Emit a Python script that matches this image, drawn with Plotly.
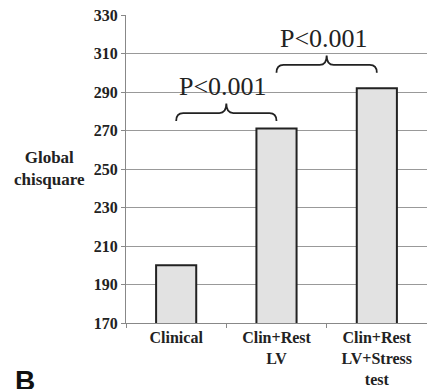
import plotly.graph_objects as go

categories = ["Clinical", "Clin+Rest<br>LV", "Clin+Rest<br>LV+Stress<br>test"]
values = [200, 271, 292]
y_ticks = [170, 190, 210, 230, 250, 270, 290, 310, 330]

# significance braces: start/end category index, tip level, peak level, label level
brace_from = [0, 1]
brace_to = [1, 2]
brace_tip = [275, 300]
brace_peak = [284, 309]
brace_label_y = [293, 318]
brace_labels = ["P<0.001", "P<0.001"]

serif = "Liberation Serif, Times New Roman, Times, serif"

fig = go.Figure()
fig.add_trace(go.Bar(
    x=categories, y=values, width=0.4,
    marker=dict(color="#e2e2e2", line=dict(color="#222222", width=2)),
    showlegend=False,
))

shapes = []
annotations = []
for a, b, tip, peak, ly, txt in zip(brace_from, brace_to, brace_tip, brace_peak, brace_label_y, brace_labels):
    line = tip + (peak - tip) * 0.45
    m = (a + b) / 2
    dx = 0.07
    path = (f"M {a},{tip} Q {a},{line} {a+dx},{line} "
            f"L {m-dx},{line} Q {m},{line} {m},{peak} "
            f"Q {m},{line} {m+dx},{line} "
            f"L {b-dx},{line} Q {b},{line} {b},{tip}")
    shapes.append(dict(type="path", path=path, xref="x", yref="y",
                       line=dict(color="#222222", width=1.8)))
    annotations.append(dict(x=m - 0.03, y=ly, xref="x", yref="y", text=txt,
                            showarrow=False,
                            font=dict(family=serif, size=26, color="#222222")))

annotations.append(dict(x=-0.255, y=0.502, xref="paper", yref="paper",
                        xanchor="center", yanchor="middle",
                        text="Global<br>chisquare", showarrow=False,
                        font=dict(family=serif, size=17, color="#222222",
                                  weight="bold")))
annotations.append(dict(x=-0.375, y=-0.13, xref="paper", yref="paper",
                        xanchor="left", yanchor="top",
                        text="B", showarrow=False,
                        font=dict(family="Liberation Sans, Arial, sans-serif",
                                  size=28, color="#111111", weight="bold")))

tick_font = dict(family=serif, size=16, color="#222222", weight="bold")

fig.update_layout(
    width=427, height=389,
    margin=dict(l=126, r=0, t=15, b=66),
    paper_bgcolor="white", plot_bgcolor="white",
    shapes=shapes, annotations=annotations,
    xaxis=dict(range=[-0.5, 2.5], showgrid=False, showline=True,
               linecolor="#888888", linewidth=1,
               ticks="outside", tickson="boundaries", ticklen=4,
               tickcolor="#888888", tickfont=tick_font),
    yaxis=dict(range=[170, 330], tickvals=y_ticks,
               ticktext=[str(v) for v in y_ticks], showgrid=True,
               gridcolor="#999999", gridwidth=1,
               showline=True, linecolor="#888888", linewidth=1,
               ticks="outside", ticklen=4, tickcolor="#888888",
               tickfont=tick_font, zeroline=False),
)

fig.write_html("out.html")
